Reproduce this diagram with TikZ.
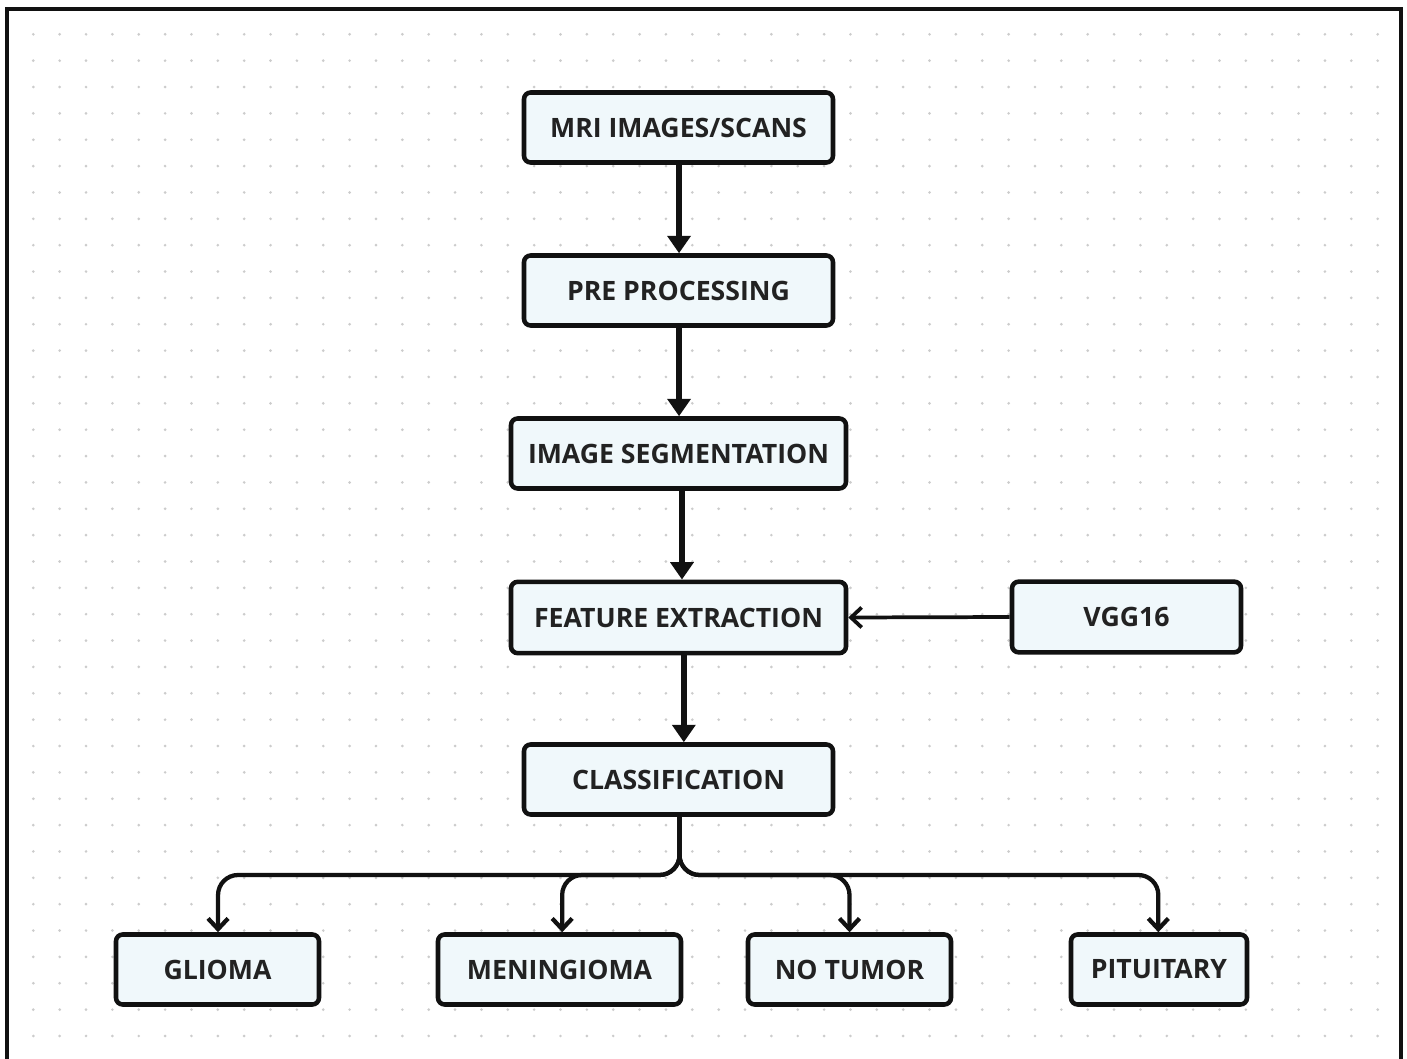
\documentclass[tikz,border=0pt]{standalone}
\usepackage{fontspec}
\setmainfont{Open Sans}
\usetikzlibrary{arrows.meta}
\definecolor{boxfill}{HTML}{F0F8FB}
\definecolor{boxline}{HTML}{111111}
\definecolor{txt}{HTML}{222222}
\definecolor{dotc}{HTML}{CCCCCC}
\begin{document}
\begin{tikzpicture}[x=0.75pt,y=-0.75pt,
  box/.style={draw=boxline, line width=3.4pt, fill=boxfill, rounded corners=5pt,
    inner sep=0pt, minimum height=52.5pt, text=txt,
    font=\fontsize{20}{22}\selectfont\bfseries},
  mainarrow/.style={draw=boxline, line width=4.2pt, -{Triangle[length=13pt,width=17pt]}},
  branch/.style={draw=boxline, line width=3.2pt, rounded corners=15pt,
    -{Straight Barb[length=8pt,width=15pt,line width=3.2pt]}},
  sidearrow/.style={draw=boxline, line width=2.8pt,
    -{Straight Barb[length=8pt,width=15pt,line width=2.8pt]}}]
\useasboundingbox (0,0) rectangle (1407,1059);
\clip (0,0) rectangle (1407,1059);
\fill[white] (0,0) rectangle (1407,1059);
% dot grid
\foreach \i in {0,...,51}{
  \foreach \j in {0,...,38}{
    \fill[dotc] (33.3+26.36*\i, 34.3+26.36*\j) circle[radius=1.1pt];
  }
}
% outer frame
\draw[line width=2.4pt, draw=boxline] (7,9) rectangle (1401,1075);
% nodes
\node[box, minimum width=231.75pt] (mri) at (678.5,127.5) {MRI IMAGES/SCANS};
\node[box, minimum width=231.75pt] (pre) at (678.5,290.5) {PRE PROCESSING};
\node[box, minimum width=251.25pt] (seg) at (678.5,453.5) {IMAGE SEGMENTATION};
\node[box, minimum width=251.25pt, minimum height=53.5pt] (feat) at (678.5,617.5) {FEATURE EXTRACTION};
\node[box, minimum width=171.75pt, minimum height=53pt] (vgg) at (1126.5,617) {VGG16};
\node[box, minimum width=231.75pt] (cls) at (678.5,779.5) {CLASSIFICATION};
\node[box, minimum width=152.25pt] (gli) at (217.5,969.5) {GLIOMA};
\node[box, minimum width=182.25pt] (men) at (559.5,969.5) {MENINGIOMA};
\node[box, minimum width=152.25pt] (not) at (849.5,969.5) {NO TUMOR};
\node[box, minimum width=132pt] (pit) at (1159,969.5) {PITUITARY};
% main arrows
\draw[mainarrow] ([xshift=0.4pt]mri.south) -- ([xshift=0.4pt]pre.north);
\draw[mainarrow] ([xshift=0.4pt]pre.south) -- ([xshift=0.4pt]seg.north);
\draw[mainarrow] ([xshift=2.6pt]seg.south) -- ([xshift=2.6pt]feat.north);
\draw[mainarrow] ([xshift=4pt]feat.south) -- ([xshift=4pt]cls.north);
\draw[sidearrow] (vgg.west) -- (feat.east);
% branches
\coordinate (bus) at (679.5,875);
\draw[branch] ([xshift=0.75pt]cls.south) -- (bus) -| ([xshift=0.4pt]gli.north);
\draw[branch] ([xshift=0.75pt]cls.south) -- (bus) -| ([xshift=2pt]men.north);
\draw[branch] ([xshift=0.75pt]cls.south) -- (bus) -| (not.north);
\draw[branch] ([xshift=0.75pt]cls.south) -- (bus) -| ([xshift=-0.5pt]pit.north);
\end{tikzpicture}
\end{document}
